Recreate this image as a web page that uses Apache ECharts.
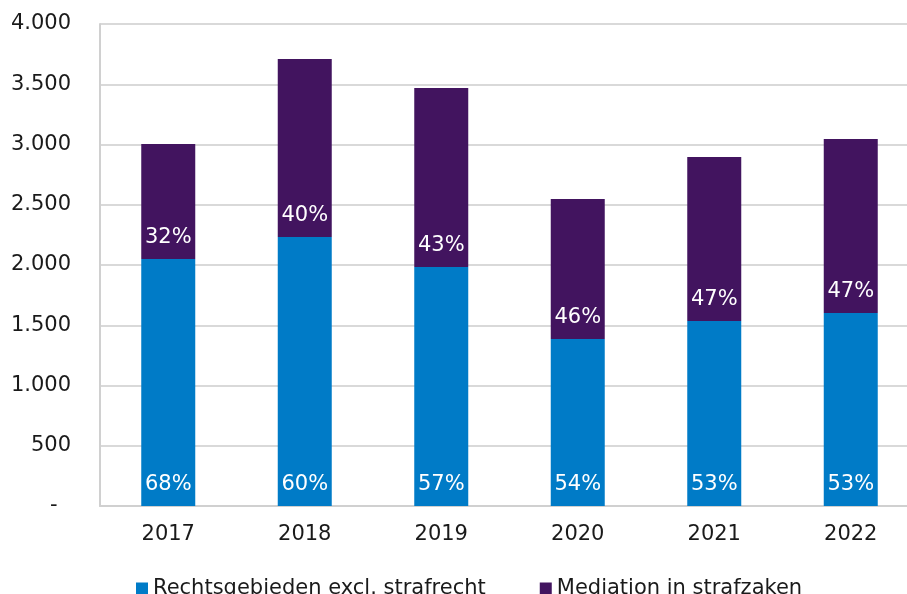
<!DOCTYPE html>
<html>
<head>
<meta charset="utf-8">
<script src="https://cdn.jsdelivr.net/npm/echarts@6/dist/echarts.min.js"></script>
<style>
  html, body { margin: 0; padding: 0; background: #fff; }
  #chart { width: 907px; height: 594px; }
</style>
</head>
<body>
<div id="chart"></div>
<script>
const years = ['2017', '2018', '2019', '2020', '2021', '2022']
const rechtsgebieden = [2050, 2232, 1983, 1386, 1535, 1602]
const mediation = [954, 1478, 1486, 1162, 1361, 1444]
const pctRechts = ['68%', '60%', '57%', '54%', '53%', '53%']
const pctMediation = ['32%', '40%', '43%', '46%', '47%', '47%']

const font = 'DejaVu Sans, Verdana, sans-serif'

const chart = echarts.init(document.getElementById('chart'))

const fmtNum = (v) => {
  if (v === 0) return '-  '
  return String(v).replace(/\B(?=(\d{3})+(?!\d))/g, '.')
}

const option = {
  animation: false,
  textStyle: { fontFamily: font },
  grid: { left: 100, width: 819, top: 24, bottom: 88, outerBoundsMode: 'none', containLabel: false },
  xAxis: {
    type: 'category',
    data: years,
    axisLine: { lineStyle: { color: '#d0d0d0', width: 2 } },
    axisTick: { show: false },
    axisLabel: { color: '#1a1a1a', fontSize: 21, margin: 18, fontFamily: font }
  },
  yAxis: {
    type: 'value',
    min: 0,
    max: 4000,
    interval: 500,
    axisLine: { show: true, lineStyle: { color: '#d0d0d0', width: 2 } },
    axisTick: { show: false },
    splitLine: { lineStyle: { color: '#d9d9d9', width: 2 } },
    axisLabel: {
      color: '#1a1a1a', fontSize: 21, margin: 29, fontFamily: font,
      formatter: fmtNum
    }
  },
  legend: {
    top: 573,
    left: 131,
    itemWidth: 12,
    itemHeight: 12,
    itemGap: 54,
    icon: 'rect',
    textStyle: { fontSize: 21, color: '#1a1a1a', fontFamily: font },
    data: ['Rechtsgebieden excl. strafrecht', 'Mediation in strafzaken']
  },
  series: [
    {
      name: 'Rechtsgebieden excl. strafrecht',
      type: 'bar',
      stack: 'totaal',
      barWidth: 54,
      itemStyle: { color: '#007bc7' },
      label: {
        show: true,
        position: 'insideBottom',
        distance: 11,
        color: '#fff',
        fontSize: 21,
        fontFamily: font,
        formatter: (p) => pctRechts[p.dataIndex]
      },
      data: rechtsgebieden
    },
    {
      name: 'Mediation in strafzaken',
      type: 'bar',
      stack: 'totaal',
      barWidth: 54,
      itemStyle: { color: '#42145f' },
      label: {
        show: true,
        position: 'insideBottom',
        distance: 11,
        color: '#fff',
        fontSize: 21,
        fontFamily: font,
        formatter: (p) => pctMediation[p.dataIndex]
      },
      data: mediation
    }
  ]
}

chart.setOption(option)
</script>
</body>
</html>
